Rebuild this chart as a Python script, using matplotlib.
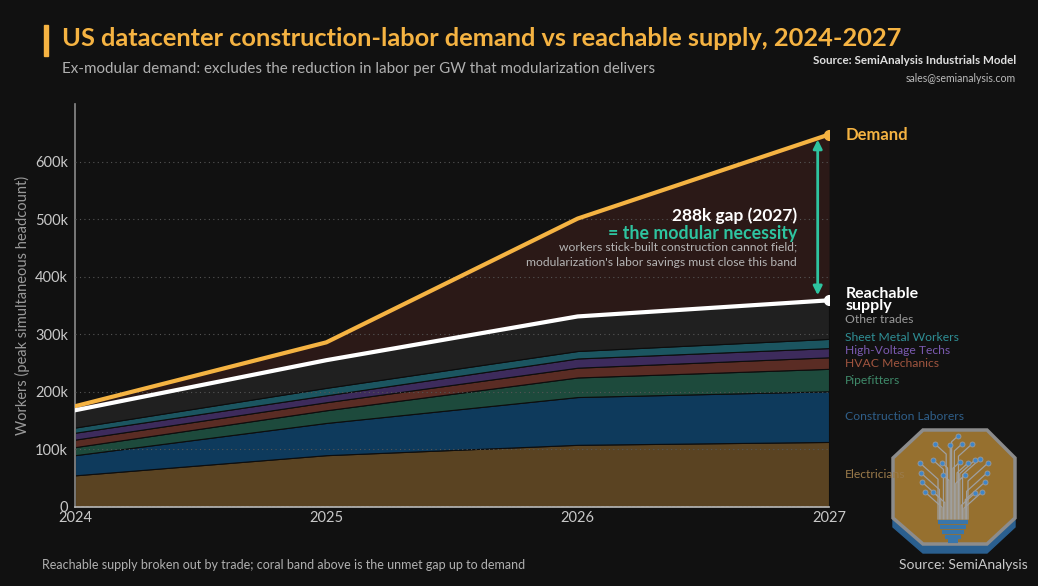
import matplotlib.pyplot as plt
import numpy as np
from matplotlib.patches import Polygon, FancyArrowPatch

plt.rcParams['font.family'] = ['Lato', 'DejaVu Sans']

# values in thousands of workers (peak simultaneous headcount)
years = [2024, 2025, 2026, 2027]
demand = [175, 286, 501, 647]
reachable = [168, 255, 331, 359]

trades = ['Electricians', 'Construction Laborers', 'Pipefitters', 'HVAC Mechanics',
          'High-Voltage Techs', 'Sheet Metal Workers', 'Other trades']
electricians = [55, 90, 108, 113]
laborers = [35, 56, 83, 88]
pipefitters = [14, 22, 34, 39]
hvac = [13, 14, 17, 20]
hv_techs = [12, 12, 16, 16]
sheet_metal = [9, 13, 13, 16]
other = [30, 48, 60, 67]

fill_colors = ['#5a4322', '#0e3a5c', '#1d4a3c', '#5a2c24', '#3d2b5c', '#1b5560', '#202020']
label_colors = ['#9a7a4a', '#2f5f8a', '#3f8a6a', '#a0553f', '#7a5ab0', '#2f8f95', '#9a9a9a']

BG = '#111111'
GOLD = '#f5b342'
TEAL = '#2ec4a0'

W, H = 1038, 586


def px(x, y):
    return x / W, 1 - y / H


fig = plt.figure(figsize=(W / 100, H / 100), dpi=100, facecolor=BG)
ax = fig.add_axes([75 / W, 1 - 507 / H, (829 - 75) / W, (507 - 104) / H])
ax.set_facecolor(BG)
ax.set_zorder(2)

series = np.array([electricians, laborers, pipefitters, hvac, hv_techs, sheet_metal, other])
tops = np.cumsum(series, axis=0)
bottoms = np.vstack([np.zeros(len(years)), tops[:-1]])

# unmet gap band
ax.fill_between(years, reachable, demand, color='#2b1917', lw=0, zorder=1)
for i in range(len(trades)):
    ax.fill_between(years, bottoms[i], tops[i], facecolor=fill_colors[i],
                    edgecolor='#0d0d0d', lw=0.8, zorder=1)

ax.plot(years, demand, color=GOLD, lw=3, zorder=5, solid_capstyle='round')
ax.plot(years, reachable, color='white', lw=3, zorder=5, solid_capstyle='round')
ax.plot([years[-1]], [demand[-1]], 'o', color=GOLD, ms=7, zorder=6)
ax.plot([years[-1]], [reachable[-1]], 'o', color='white', ms=7, zorder=6)

ax.set_xlim(2024, 2027)
ax.set_ylim(0, 700)
ax.set_xticks(years)
ax.set_xticklabels([str(y) for y in years])
yt = [0, 100, 200, 300, 400, 500, 600]
ax.set_yticks(yt)
ax.set_yticklabels(['0' if v == 0 else f'{v}k' for v in yt])
ax.tick_params(axis='both', length=0, colors='#c8c8c8', labelsize=10.5)
ax.tick_params(axis='y', pad=5)
ax.tick_params(axis='x', pad=3)
ax.set_axisbelow(False)
ax.yaxis.grid(True, linestyle=(0, (1, 3)), color='#555555', lw=0.8)
for s in ['top', 'right']:
    ax.spines[s].set_visible(False)
ax.spines['left'].set_color('#8a8a8a')
ax.spines['bottom'].set_color('#bbbbbb')
ax.spines['left'].set_linewidth(1.2)
ax.spines['bottom'].set_linewidth(1.2)

# gap arrow
gap = demand[-1] - reachable[-1]
arr = FancyArrowPatch((2026.955, demand[-1] - 4), (2026.955, reachable[-1] + 4),
                      arrowstyle='<|-|>', mutation_scale=13, color=TEAL, lw=2, zorder=7)
ax.add_patch(arr)

fig.text(*px(797, 216), f'{gap}k gap (2027)', color='white', fontsize=12.5,
         fontweight='bold', ha='right', va='center')
fig.text(*px(797, 233), '= the modular necessity', color=TEAL, fontsize=12.8,
         fontweight='bold', ha='right', va='center')
fig.text(*px(797, 247), 'workers stick-built construction cannot field;', color='#b5b5b5',
         fontsize=8.7, ha='right', va='center')
fig.text(*px(797, 262), "modularization's labor savings must close this band", color='#b5b5b5',
         fontsize=8.7, ha='right', va='center')

# right-side labels
lx = 2027.065
ax.text(lx, demand[-1], 'Demand', color=GOLD, fontsize=12, fontweight='bold',
        ha='left', va='center', clip_on=False)
ax.text(lx, reachable[-1], 'Reachable\nsupply', color='white', fontsize=11.5,
        fontweight='bold', ha='left', va='center', linespacing=0.85, clip_on=False)

mids = (bottoms[:, -1] + tops[:, -1]) / 2
label_y = []
prev = -1e9
for m in mids:
    y = max(m, prev + 22)
    label_y.append(y)
    prev = y
for name, y, c in zip(trades, label_y, label_colors):
    ax.text(lx, y, name, color=c, fontsize=8.7, ha='left', va='center', clip_on=False)

# title block
fig.patches.append(Polygon([px(44, 25), px(48, 25), px(48, 56), px(44, 56)], closed=True,
                           transform=fig.transFigure, color=GOLD))
fig.text(*px(62, 39), 'US datacenter construction-labor demand vs reachable supply, 2024-2027',
         color=GOLD, fontsize=18.3, fontweight='bold', ha='left', va='center')
fig.text(*px(62, 69), 'Ex-modular demand: excludes the reduction in labor per GW that modularization delivers',
         color='#b0b0b0', fontsize=10.9, ha='left', va='center')
fig.text(*px(1016, 61), 'Source: SemiAnalysis Industrials Model', color='#e0e0e0',
         fontsize=8.4, fontweight='bold', ha='right', va='center')
fig.text(*px(1016, 78), 'sales@semianalysis.com', color='#bbbbbb', fontsize=7.6, ha='right', va='center')
fig.text(*px(22, 305), 'Workers (peak simultaneous headcount)', color='#9a9a9a', fontsize=10.5,
         rotation=90, ha='center', va='center')
fig.text(*px(42, 565), 'Reachable supply broken out by trade; coral band above is the unmet gap up to demand',
         color='#b0b0b0', fontsize=9, ha='left', va='center')
fig.text(*px(1028, 565), 'Source: SemiAnalysis', color='#c8c8c8', fontsize=10, ha='right', va='center')

# logo (simplified)
lg = fig.add_axes([880 / W, 1 - 570 / H, 150 / W, 150 / H])
lg.set_zorder(1)
lg.set_xlim(880, 1030)
lg.set_ylim(570, 420)
lg.axis('off')
oct_pts = [(923, 430), (987, 430), (1015, 458), (1015, 518), (987, 544), (923, 544), (893, 518), (893, 458)]
lg.add_patch(Polygon([(x, y + 9) for x, y in oct_pts], closed=True, color='#2a5f8f', zorder=1))
lg.add_patch(Polygon(oct_pts, closed=True, facecolor='#96702f', edgecolor='#8c8c8c', lw=2.5, zorder=2))
for k, (y0, half) in enumerate([(522, 15), (527, 13), (532, 11), (537, 8), (541, 5)]):
    lg.plot([953 - half, 953 + half], [y0, y0], color='#3a76aa', lw=3, zorder=3,
            solid_capstyle='butt')
ends = [(958, 436), (935, 444), (950, 445), (962, 444), (972, 444), (920, 463), (933, 460),
        (942, 463), (960, 462), (968, 463), (975, 460), (980, 459), (988, 463), (921, 473),
        (943, 475), (965, 475), (987, 473), (922, 482), (985, 482), (925, 492), (933, 492),
        (975, 493), (982, 492)]
ends = sorted(ends, key=lambda p: p[0])
bases = np.linspace(938, 968, len(ends))
for bx, (ex, ey) in zip(bases, ends):
    knee = min(ey + abs(ex - bx) * 0.9, 515)
    lg.plot([bx, bx, ex], [519, knee, ey], color='#a0a0a0', lw=0.9, zorder=4)
    lg.plot([ex], [ey], 'o', mfc='#3f86c8', mec='#9a9a9a', mew=0.6, ms=3.6, zorder=5)

fig.savefig('out.png', dpi=100, facecolor=BG)
